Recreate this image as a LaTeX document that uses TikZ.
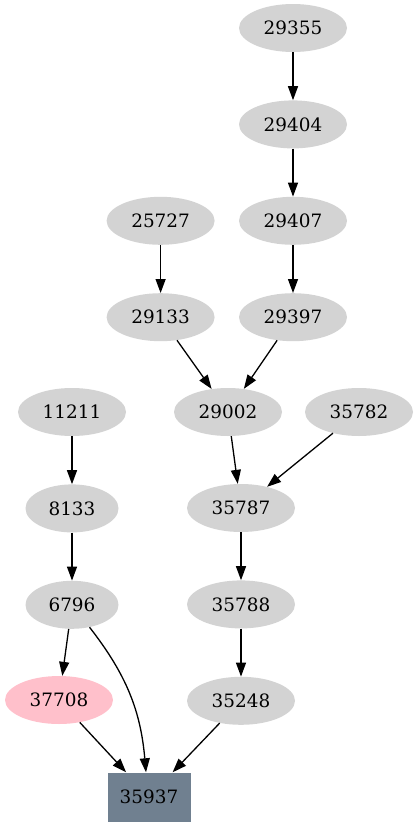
\documentclass[tikz,border=0pt]{standalone}
\usepackage{fontspec}
\usepackage{tikz}
\usetikzlibrary{shapes.geometric, arrows.meta, positioning}
\newfontfamily\nodefont{DejaVu Serif}
\definecolor{nodeGray}{HTML}{D3D3D3}
\definecolor{nodePink}{HTML}{FFC0CB}
\definecolor{sinkSlate}{HTML}{708090}

\begin{document}
\begin{tikzpicture}[
    x=1pt, y=-1pt,
    node distance=48pt,
    vert/.style={ellipse, fill=nodeGray, inner sep=0pt,
                 minimum width=108pt, minimum height=48pt,
                 font=\nodefont\fontsize{18.4}{22}\selectfont},
    short/.style={vert, minimum width=93pt},
    sink/.style={rectangle, fill=sinkSlate, inner sep=0pt,
                 minimum width=83pt, minimum height=49pt,
                 font=\nodefont\fontsize{18.4}{22}\selectfont},
    arrow/.style={-{Triangle[length=14pt, width=10pt]}, line width=1.3pt},
]
\useasboundingbox (0,0) rectangle (419,827);

% Right chain
\node[vert] (n29355) at (293,28) {29355};
\node[vert, below=of n29355] (n29404) {29404};
\node[vert, below=of n29404] (n29407) {29407};
\node[vert, below=of n29407] (n29397) {29397};
\node[vert, left=24pt of n29407] (n25727) {25727};
\node[vert, below=of n25727] (n29133) {29133};

% Middle rank
\node[vert] (n11211) at (72,412) {11211};
\node[vert] (n29002) at (228,412) {29002};
\node[vert] (n35782) at (359,412) {35782};

% Lower chains
\node[short, below=of n11211] (n8133) {8133};
\node[short, below=of n8133] (n6796) {6796};
\node[vert] (n35787) at (241,508) {35787};
\node[vert, below=of n35787] (n35788) {35788};
\node[vert, below=of n35788] (n35248) {35248};
\node[vert, fill=nodePink] (n37708) at (59,700) {37708};
\node[sink] (n35937) at (149,797) {35937};

\draw[arrow] (n29355) -- (n29404);
\draw[arrow] (n29404) -- (n29407);
\draw[arrow] (n29407) -- (n29397);
\draw[arrow] (n25727) -- (n29133);
\draw[arrow] (n29133) -- (n29002);
\draw[arrow] (n29397) -- (n29002);
\draw[arrow] (n29002) -- (n35787);
\draw[arrow] (n35782) -- (n35787);
\draw[arrow] (n11211) -- (n8133);
\draw[arrow] (n8133) -- (n6796);
\draw[arrow] (n35787) -- (n35788);
\draw[arrow] (n35788) -- (n35248);
\draw[arrow] (n6796) -- (n37708);
\draw[arrow] (n6796) to[out=-52, in=95] ([xshift=-3pt]n35937.north);
\draw[arrow] (n37708) -- (n35937);
\draw[arrow] (n35248) -- (n35937);
\end{tikzpicture}
\end{document}
